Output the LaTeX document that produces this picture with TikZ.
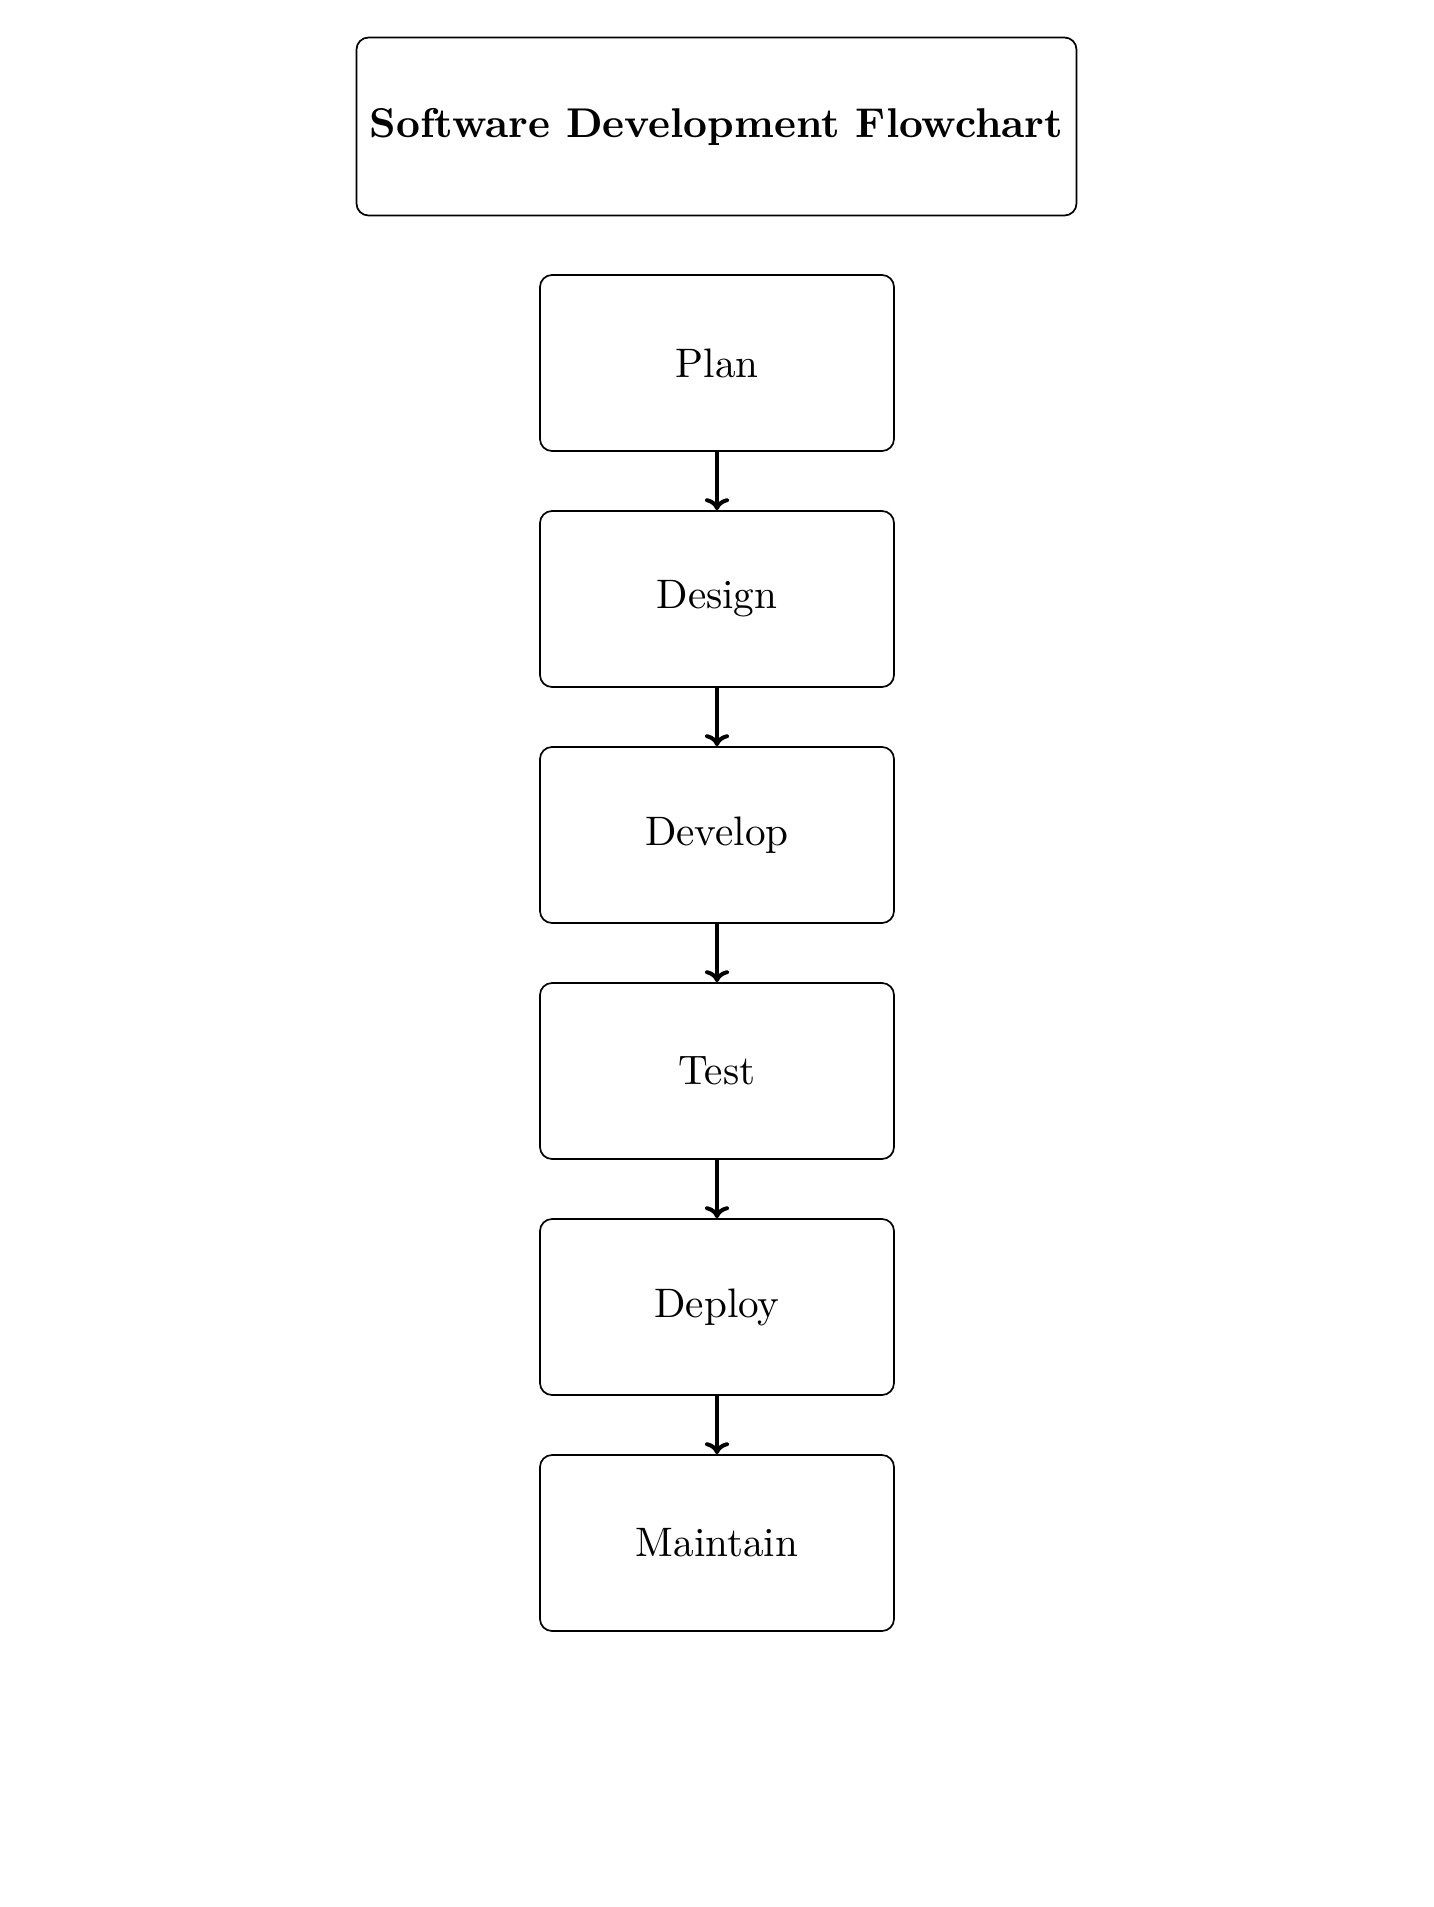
\documentclass[tikz,border=0pt]{standalone}
\usepackage{fontspec}
\setmainfont{lmroman10-regular.otf}[BoldFont=lmroman10-bold.otf]
\usetikzlibrary{arrows.meta}
\begin{document}
\begin{tikzpicture}[x=0.5pt,y=-0.5pt,
  box/.style={draw,line width=0.85pt,rounded corners=6pt,minimum width=177pt,minimum height=88pt,inner sep=0pt,font=\fontsize{20.6}{25}\selectfont},
  titlebox/.style={box,minimum width=360pt,minimum height=89pt,font=\fontsize{20.8}{25}\selectfont\bfseries},
  flow/.style={line width=2pt,-{To[length=6pt,width=12pt]}}]
\useasboundingbox (0,0) rectangle (1434,1907);
\node[titlebox] (title) at (716.5,126.5) {Software Development Flowchart};
\node[box] (plan) at (717,363) {Plan};
\node[box] (design) at (717,599) {Design};
\node[box] (develop) at (717,835) {Develop};
\node[box] (test) at (717,1071) {Test};
\node[box] (deploy) at (717,1307) {Deploy};
\node[box] (maintain) at (717,1543) {Maintain};
\draw[flow] (plan) -- (design);
\draw[flow] (design) -- (develop);
\draw[flow] (develop) -- (test);
\draw[flow] (test) -- (deploy);
\draw[flow] (deploy) -- (maintain);
\end{tikzpicture}
\end{document}
